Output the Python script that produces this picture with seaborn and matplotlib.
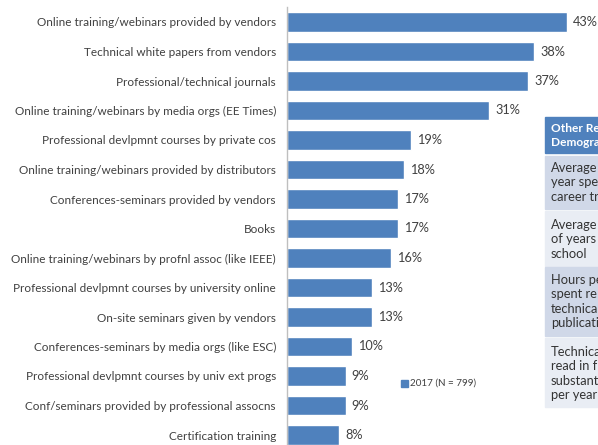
import matplotlib
matplotlib.use("Agg")
import matplotlib.pyplot as plt
import seaborn as sns
import pandas as pd
from matplotlib.patches import Rectangle

categories = [
    "Online training/webinars provided by vendors",
    "Technical white papers from vendors",
    "Professional/technical journals",
    "Online training/webinars by media orgs (EE Times)",
    "Professional devlpmnt courses by private cos",
    "Online training/webinars provided by distributors",
    "Conferences-seminars provided by vendors",
    "Books",
    "Online training/webinars by profnl assoc (like IEEE)",
    "Professional devlpmnt courses by university online",
    "On-site seminars given by vendors",
    "Conferences-seminars by media orgs (like ESC)",
    "Professional devlpmnt courses by univ ext progs",
    "Conf/seminars provided by professional assocns",
    "Certification training",
]
values = [43, 38, 37, 31, 19, 18, 17, 17, 16, 13, 13, 10, 9, 9, 8]
series_label = "2017 (N = 799)"

table_header = ["Other Re", "Demogra"]
table_rows = [
    ["Average", "year spe", "career tr"],
    ["Average", "of years", "school"],
    ["Hours pe", "spent re", "technica", "publicati"],
    ["Technica", "read in f", "substant", "per year"],
]

BAR = "#4f81bd"
TXT = "#404040"

sns.set_theme(style="white")
plt.rcParams["font.family"] = ["Lato", "DejaVu Sans"]

W, H = 598, 445
fig = plt.figure(figsize=(W / 100, H / 100), dpi=100)

# axes placed in pixel terms: left spine at x=287, bars centred 22..435
px_per_unit = 6.51
left = 287
top_px = 22 - 14.75
bot_px = 435 + 14.75
ax = fig.add_axes([left / W, (H - bot_px) / H, (W - left) / W, (bot_px - top_px) / H])

df = pd.DataFrame({"category": categories, "value": values, "series": series_label})
sns.barplot(data=df, x="value", y="category", hue="series", palette=[BAR],
            orient="h", width=0.66, ax=ax, legend=False, saturation=1)

ax.set_xlim(0, (W - left) / px_per_unit)
ax.set_ylim(len(categories) - 0.5, -0.5)
ax.set_xlabel("")
ax.set_ylabel("")
ax.set_xticks([])
ax.tick_params(axis="y", length=0, pad=8, labelsize=8.45, labelcolor=TXT)
for s in ["top", "right", "bottom"]:
    ax.spines[s].set_visible(False)
ax.spines["left"].set_color("#bfbfbf")
ax.spines["left"].set_linewidth(1.0)

for i, v in enumerate(values):
    ax.text(v + 0.95, i, f"{v}%", va="center", ha="left", fontsize=9.2, color=TXT)

# legend entry
fig.patches.append(Rectangle((401 / W, (H - 387) / H), 7 / W, 7 / H,
                             transform=fig.transFigure, color=BAR))
fig.text(410 / W, (H - 383.5) / H, series_label, fontsize=7.1, color=TXT,
         va="center", ha="left")

# side table (runs off the right edge)
tx = 545
fig.patches.append(Rectangle((tx / W, (H - 153) / H), (W - tx) / W, 36 / H,
                             transform=fig.transFigure, color="#4f81bd"))
fig.text(551 / W, (H - 128) / H, table_header[0], fontsize=8.6, color="white",
         fontweight="bold", va="center")
fig.text(551 / W, (H - 143) / H, table_header[1], fontsize=8.6, color="white",
         fontweight="bold", va="center")

row_spans = [(156, 209), (211, 266), (267, 336), (338, 407)]
row_first = [168, 225, 280, 352]
row_colors = ["#d0d8e8", "#e9edf4", "#d0d8e8", "#e9edf4"]
for (y0, y1), yf, col, lines in zip(row_spans, row_first, row_colors, table_rows):
    fig.patches.append(Rectangle((tx / W, (H - y1) / H), (W - tx) / W, (y1 - y0) / H,
                                 transform=fig.transFigure, color=col))
    for k, line in enumerate(lines):
        fig.text(551 / W, (H - (yf + 14.4 * k)) / H, line, fontsize=9.3,
                 color="#333333", va="center")

fig.savefig("out.png", dpi=100)
